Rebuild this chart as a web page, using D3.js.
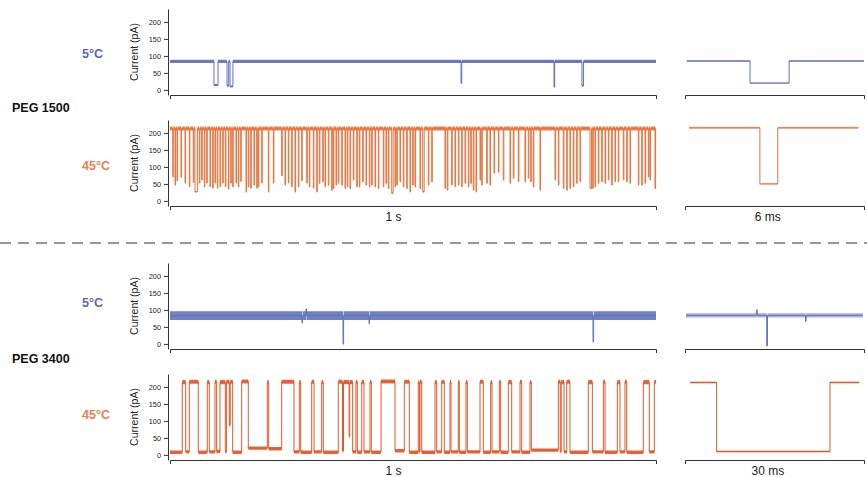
<!DOCTYPE html>
<html><head><meta charset="utf-8">
<script src="https://cdn.jsdelivr.net/npm/d3@7"></script>
<style>
body{margin:0;background:#fff;}
svg{display:block;font-family:"Liberation Sans",Arial,Helvetica,sans-serif;}
</style></head>
<body><svg id="c" width="867" height="477"></svg>
<script>
// ---------------- DATA ----------------
const yTicks = [0, 50, 100, 150, 200];
const yDomain = [-15, 238];            // pA
const mainSpanMs = [0, 1000];           // 1 s window
const insetSpan1500 = [0, 6];           // 6 ms window
const insetSpan3400 = [0, 30];          // 30 ms window
const groupLabels = ["PEG 1500", "PEG 3400"];
const tempLabels = ["5°C", "45°C"];
const mainScaleLabel = "1 s";
const insetScaleLabels = ["6 ms", "30 ms"];

// PEG 1500, 5 °C : baseline and events [start ms, duration ms, level pA]
const peg1500_5C_base = 84;
const peg1500_5C_noise = [5, 3];        // half-width of noise band: baseline, blocked
const peg1500_5C_events = [
  [90.5, 8.3, 14], [117.3, 3.5, 12], [123.5, 6.0, 10],
  [598.8, 1.5, 20], [790.1, 1.5, 9], [847.7, 3.0, 12]
];

// PEG 1500, 45 °C : baseline and events [start ms, level pA, (duration ms)]
const peg1500_45C_base = 213;
const peg1500_45C_noise = [6, 2];
const peg1500_45C_events = [
[5.6,71],[10.3,47],[14.4,60],[22.6,70],[30.9,53],[39.7,42],[47.9,55],[51.4,27,5],[60.3,53],[65.2,62],
[70.6,42],[75.5,53],[82.3,42],[87.9,38],[92.6,53],[97.3,38],[102.9,42],[108.4,53],[113.8,42],[120,35],
[124.9,53],[129,42],[135.8,53],[140.5,42],[145.5,58],[156.4,27],[161.1,42],[166.1,38],[172.8,47],[178.4,38],
[181.7,42],[188.7,53],[202.3,27],[212.6,53],[229.8,75],[236.6,47],[243.4,53],[250.4,42],[257.2,27],[264,42],
[271,60],[281.3,53],[286.6,42],[294.9,38],[301.9,27],[307.2,52],[314.2,57],[318.9,42],[325.7,47],[332.7,32],
[336,37],[341.6,47],[346.3,52],[353.3,47],[360.1,37],[364.8,42],[370.4,37],[377.2,62],[384.2,42],[389.5,42],
[396.5,57],[403.3,47],[410.1,42],[415,47],[421.8,42],[428.6,37],[438.9,42],[444.4,52],[449.2,37],[456.2,23,3],
[463,42],[466.5,47],[473.2,57],[480,42],[487,37],[493.8,27],[499.4,47],[504.1,42],[514.4,37],[520,27,3],
[531.5,47],[538.5,57],[565.8,37],[570.6,32],[579.6,47],[586.4,42],[593.3,47],[600.2,42],[607,52],[613.8,42],
[618.8,52],[624.1,32],[629.6,27],[637.9,62],[641.3,47],[651.6,52],[658.4,47],[666.7,82],[675.6,85],[685.8,62],
[699.6,52],[706.4,67],[716.7,57],[730.4,57],[737.2,67],[742.2,57],[747.5,42],[761.3,32],[792.2,62],[799,47],
[809.3,37],[816.2,32],[823,37],[829.8,42],[836.8,52],[843.6,57],[864.2,37,3],[869.8,37],[874.5,42],[881.3,52],
[888.3,57],[895.1,52],[901.9,62],[908.8,47],[915.6,57],[922.4,57],[932.7,62],[939.7,57],[946.5,52],[963.6,47],
[970.6,47],[977.4,52],[984.2,71],[987.6,62],[997.9,37]
];

// PEG 3400, 5 °C : baseline and events [start ms, duration ms, level pA]
const peg3400_5C_base = 83;
const peg3400_5C_noise = [13, 2];
const peg3400_5C_events = [
  [271.6, 1.0, 62], [279.8, 1.0, 103], [356.0, 1.2, 0], [409.5, 1.0, 60], [870.4, 1.2, 6]
];

// PEG 3400, 45 °C : level changes [time ms, level pA]
const peg3400_45C_steps = [
[0,8],[25.3,214],[32.3,9],[39.7,215],[58.2,8],[76.7,214],[80.9,9],[92.6,215],[96,10],[102.9,214],
[113.8,9],[116,215],[122,88],[124,215],[129,8],[147.5,216],[161.1,20],[200.2,214],[203.1,18],[229.8,215],
[255.1,9],[266,214],[268.9,8],[291.6,215],[296.3,9],[312.1,214],[315.4,8],[346.3,215],[355,12],[357,214],
[368.5,55],[369.8,214],[375.9,9],[382.7,215],[385.4,8],[394.5,214],[399.2,9],[411.5,215],[414.2,8],[434.2,216],
[463,12],[482.1,215],[492.4,8],[510.9,214],[513,9],[514.4,215],[517.9,8],[545.3,214],[548.8,9],[559,215],
[564.4,8],[576.1,214],[578.2,9],[593.2,215],[595.3,8],[609,214],[611.8,9],[637.9,215],[644.7,8],[659.9,214],
[662.5,9],[677.6,215],[680.4,8],[696.1,214],[703.1,9],[720.2,215],[723.6,8],[740.7,214],[743.4,14],[799,215],
[803,10],[805,214],[810.7,9],[816.3,215],[823,8],[860.7,214],[869,9],[891.6,215],[895.1,8],[920.4,214],
[925.9,9],[936.2,215],[939.7,8],[973.9,214],[986.2,9],[996.5,215],[1000,215]
];
const peg3400_45C_noise = [6, 5];       // open, blocked

// Insets : baseline, events [start ms, duration ms, level pA], trace span ms
const inset1500_5C  = {base: 85,  noise: [3, 2], span: [0.06, 6.0],  events: [[2.18, 1.31, 20]]};
const inset1500_45C = {base: 215, noise: [3, 2], span: [0.14, 5.81], events: [[2.51, 0.60, 50]]};
const inset3400_5C  = {base: 84,  noise: [6, 1], span: [0.17, 29.8], events: [[12.0, 0.1, 100], [13.7, 0.12, -6], [20.2, 0.1, 66]]};
const inset3400_45C = {base: 213, noise: [3, 3], span: [0.84, 29.2], events: [[5.3, 19.0, 10]]};

// ---------------- LAYOUT / STYLE ----------------
const C = {
  blue: "#6072bd", blueLabel: "#5669bb",
  orange: "#e4743f", orangeLabel: "#ef7d4e", red: "#e0592a",
  axis: "#333"
};
const L = {
  mainX: [170, 656], insetX: [685, 864], yAxisX: 168, panelH: 86,
  tops: [9, 120, 263, 374], dashY: 243,
  tempLabelY: [54, 166, 303, 415], groupLabelY: [108, 359]
};

const svg = d3.select("#c");

function eventsToSteps(base, events, span, noise, order) {
  const pts = [[span[0], base, noise[0]]];
  const ev = events.slice().sort((a, b) => a[0] - b[0]);
  ev.forEach(e => {
    let t = e[0], dur, lev;
    if (order === "tld") { lev = e[1]; dur = e[2] !== undefined ? e[2] : 1.2; }
    else { dur = e[1]; lev = e[2]; }
    pts.push([t, lev, noise[1]]);
    pts.push([t + dur, base, noise[0]]);
  });
  pts.push([span[1], base, noise[0]]);
  return pts;
}

function drawTrace(g, pts, x, y, color, sw, op) {
  const area = d3.area().curve(d3.curveStepAfter)
    .x(d => x(d[0])).y0(d => y(d[1] - d[2])).y1(d => y(d[1] + d[2]));
  const line = d3.line().curve(d3.curveStepAfter).x(d => x(d[0])).y(d => y(d[1]));
  g.append("path").datum(pts).attr("d", area).attr("fill", color).attr("fill-opacity", op);
  g.append("path").datum(pts).attr("d", line).attr("fill", "none")
    .attr("stroke", color).attr("stroke-width", sw).attr("stroke-linejoin", "miter");
}

function panel(i, cfg) {
  const top = L.tops[i], bot = top + L.panelH;
  const y = d3.scaleLinear().domain(yDomain).range([bot, top]);
  const xm = d3.scaleLinear().domain(mainSpanMs).range(L.mainX);
  const xi = d3.scaleLinear().domain(cfg.insetSpan).range(L.insetX);
  const g = svg.append("g");

  // y axis
  const ya = g.append("g").attr("transform", `translate(${L.yAxisX},0)`)
    .call(d3.axisLeft(y).tickValues(yTicks).tickSize(4).tickSizeOuter(0).tickPadding(3));
  ya.selectAll("text").attr("font-size", 7.3).attr("fill", "#222").attr("font-family", "Liberation Sans, Arial, sans-serif");
  ya.selectAll("line,path").attr("stroke", C.axis);
  g.append("text").attr("transform", `translate(138,${(top + bot) / 2}) rotate(-90)`)
    .attr("text-anchor", "middle").attr("font-size", 10.5).attr("fill", "#222").text("Current (pA)");

  // x scale bars
  [xm, xi].forEach(sc => {
    const xa = g.append("g").attr("transform", `translate(0,${bot})`)
      .call(d3.axisBottom(sc).tickValues([]).tickSizeOuter(4));
    xa.selectAll("path").attr("stroke", C.axis).attr("stroke-width", 1);
  });
  if (cfg.scaleLabel) {
    g.append("text").attr("x", xm(460)).attr("y", bot + 15).attr("text-anchor", "middle")
      .attr("font-size", 12).attr("fill", "#222").text(mainScaleLabel);
    g.append("text").attr("x", xi(cfg.insetSpan[1] * 0.463)).attr("y", bot + 15).attr("text-anchor", "middle")
      .attr("font-size", 12).attr("fill", "#222").text(cfg.scaleLabel);
  }

  // temperature label
  g.append("text").attr("x", 82).attr("y", L.tempLabelY[i])
    .attr("dy", "0.35em").attr("font-size", 12.5).attr("font-weight", "bold")
    .attr("fill", cfg.labelColor).text(cfg.temp);

  // traces
  drawTrace(g, cfg.mainPts, xm, y, cfg.color, 1, 0.9);
  drawTrace(g, cfg.insetPts, xi, y, cfg.color, 1, 0.55);
}

const pegPts3400 = peg3400_45C_steps.map(d => [d[0], d[1], d[1] > 150 ? peg3400_45C_noise[0] : peg3400_45C_noise[1]]);

panel(0, {
  temp: tempLabels[0], labelColor: C.blueLabel, color: C.blue, insetSpan: insetSpan1500,
  mainPts: eventsToSteps(peg1500_5C_base, peg1500_5C_events, mainSpanMs, peg1500_5C_noise, "tdl"),
  insetPts: eventsToSteps(inset1500_5C.base, inset1500_5C.events, inset1500_5C.span, inset1500_5C.noise, "tdl")
});
panel(1, {
  temp: tempLabels[1], labelColor: C.orangeLabel, color: C.orange, insetSpan: insetSpan1500,
  scaleLabel: insetScaleLabels[0],
  mainPts: eventsToSteps(peg1500_45C_base, peg1500_45C_events, mainSpanMs, peg1500_45C_noise, "tld"),
  insetPts: eventsToSteps(inset1500_45C.base, inset1500_45C.events, inset1500_45C.span, inset1500_45C.noise, "tdl")
});
panel(2, {
  temp: tempLabels[0], labelColor: C.blueLabel, color: C.blue, insetSpan: insetSpan3400,
  mainPts: eventsToSteps(peg3400_5C_base, peg3400_5C_events, mainSpanMs, peg3400_5C_noise, "tdl"),
  insetPts: eventsToSteps(inset3400_5C.base, inset3400_5C.events, inset3400_5C.span, inset3400_5C.noise, "tdl")
});
panel(3, {
  temp: tempLabels[1], labelColor: C.orangeLabel, color: C.red, insetSpan: insetSpan3400,
  scaleLabel: insetScaleLabels[1],
  mainPts: pegPts3400,
  insetPts: eventsToSteps(inset3400_45C.base, inset3400_45C.events, inset3400_45C.span, inset3400_45C.noise, "tdl")
});

// group labels
groupLabels.forEach((lab, k) => {
  svg.append("text").attr("x", 12).attr("y", L.groupLabelY[k]).attr("dy", "0.35em")
    .attr("font-size", 12.5).attr("font-weight", "bold").attr("fill", "#111").text(lab);
});

// dashed separator
svg.append("line").attr("x1", 0).attr("x2", 867).attr("y1", L.dashY).attr("y2", L.dashY)
  .attr("stroke", "#333").attr("stroke-width", 1.2).attr("stroke-dasharray", "11,7");
</script></body></html>
